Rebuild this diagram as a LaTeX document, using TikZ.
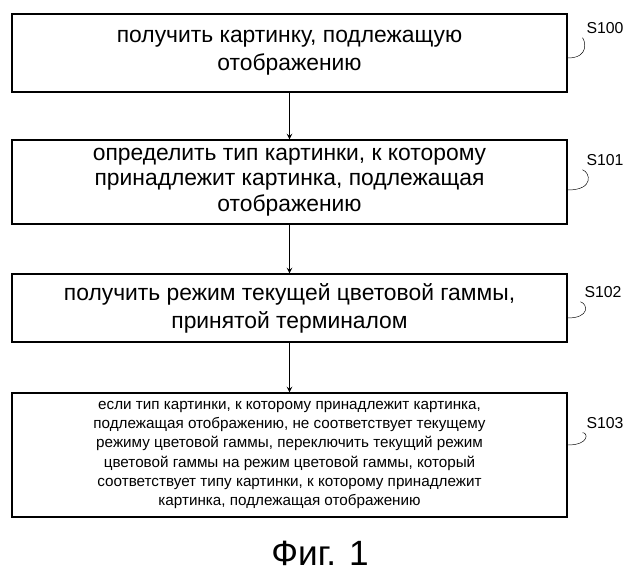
\documentclass[tikz,border=0pt]{standalone}
\usepackage{fontspec}
\setmainfont{Liberation Sans}
\usetikzlibrary{positioning}
\begin{document}
\begin{tikzpicture}[x=0.03cm, y=-0.03cm,
    stepbox/.style={draw, line width=1.1pt, minimum width=555*0.03cm, align=center, inner sep=1pt},
    bigtext/.style={font=\fontsize{19.5}{24}\selectfont},
    smalltext/.style={font=\fontsize{13}{16.5}\selectfont},
    steplabel/.style={font=\fontsize{13.5}{15}\selectfont},
    flow/.style={->, line width=1.1pt, >=stealth}]
    % Rahmen
    \useasboundingbox (0,0) rectangle (640,582);

    % Schritte
    \node[stepbox, bigtext, minimum height=78*0.03cm] (s100) at (289.5,53)
        {получить картинку, подлежащую\\отображению};
    \node[stepbox, bigtext, font=\fontsize{19.5}{22}\selectfont, minimum height=84*0.03cm] (s101) at (289.5,182)
        {определить тип картинки, к которому\\принадлежит картинка, подлежащая\\отображению};
    \node[stepbox, bigtext, minimum height=68*0.03cm] (s102) at (289.5,308)
        {получить режим текущей цветовой гаммы,\\принятой терминалом};
    \node[stepbox, smalltext, minimum height=124*0.03cm] (s103) at (289.5,455)
        {если тип картинки, к которому принадлежит картинка,\\подлежащая отображению, не соответствует текущему\\режиму цветовой гаммы, переключить текущий режим\\цветовой гаммы на режим цветовой гаммы, который\\соответствует типу картинки, к которому принадлежит\\картинка, подлежащая отображению};

    % Pfeile
    \draw[flow] (s100) -- (s101);
    \draw[flow] (s101) -- (s102);
    \draw[flow] (s102) -- (s103);

    % Marken
    \node[steplabel] (l100) at (605,28) {S100};
    \node[steplabel] (l101) at (605,160) {S101};
    \node[steplabel] (l102) at (603,292) {S102};
    \node[steplabel] (l103) at (605,423) {S103};
    \draw (s100.east |- 0,58) .. controls (590,58) and (585,40) .. (l100.south west);
    \draw (s101.east |- 0,190) .. controls (595,190) and (590,172) .. (l101.south west);
    \draw (s102.east |- 0,318) .. controls (590,318) and (588,304) .. (l102.south west);
    \draw (s103.east |- 0,445) .. controls (590,445) and (588,432) .. (l103.south west);

    % Unterschrift
    \node[font=\fontsize{30}{34}\selectfont] (fig) at (320,553) {Фиг. 1};
\end{tikzpicture}
\end{document}
